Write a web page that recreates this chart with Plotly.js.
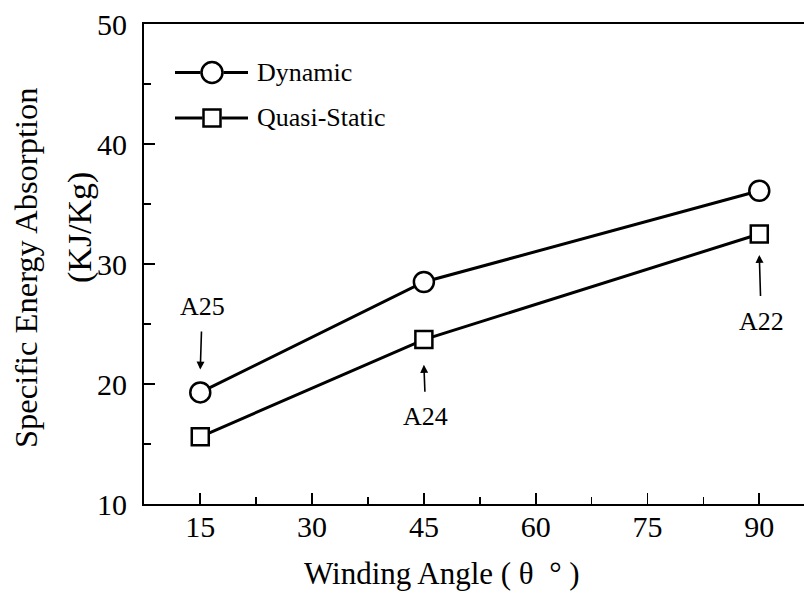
<!DOCTYPE html>
<html>
<head>
<meta charset="utf-8">
<script src="https://cdn.plot.ly/plotly-3.0.1.min.js"></script>
<style>
  html, body { margin: 0; padding: 0; background: #fff; overflow: hidden; }
  #chart { width: 804px; height: 593px; }
</style>
</head>
<body>
<div id="chart"></div>
<script>
// Winding angle (degrees) of each tube specimen
const windingAngle = [15, 45, 90];
// Specific energy absorption (KJ/Kg)
const dynamicSEA = [19.3, 28.5, 36.1];
const quasiStaticSEA = [15.6, 23.7, 32.5];
// Specimen labels placed next to the points
const specimenLabels = ['A25', 'A24', 'A22'];
const seriesNames = ['Dynamic', 'Quasi-Static'];

const FONT = 'Liberation Serif, Times New Roman, serif';
const W = 804, H = 593;
const M = { l: 144, r: 0, t: 24, b: 89 };
const plotW = W - M.l - M.r, plotH = H - M.t - M.b;
// pixel -> paper fraction helpers
const px = x => (x - M.l) / plotW;
const py = y => (H - M.b - y) / plotH;

const lineStyle = { color: '#000', width: 3 };

const traces = [
  {
    x: windingAngle, y: dynamicSEA, name: seriesNames[0],
    type: 'scatter', mode: 'lines+markers', cliponaxis: false,
    line: lineStyle,
    marker: { symbol: 'circle', size: 20, color: '#fff', line: { color: '#000', width: 2.5 } }
  },
  {
    x: windingAngle, y: quasiStaticSEA, name: seriesNames[1],
    type: 'scatter', mode: 'lines+markers', cliponaxis: false,
    line: lineStyle,
    marker: { symbol: 'square', size: 17, color: '#fff', line: { color: '#000', width: 2.5 } }
  }
];

// Specimen callouts: arrow head just beyond the marker, text further away
const calloutSeries = [dynamicSEA, quasiStaticSEA, quasiStaticSEA];
const calloutSide = [-1, 1, 1];   // -1: label above, arrow pointing down; 1: label below
const annotations = specimenLabels.map((lab, i) => {
  const headGap = i === 0 ? 1.9 : (i === 1 ? -2.1 : -1.75);
  return {
    x: windingAngle[i], y: calloutSeries[i][i] + headGap,
    xref: 'x', yref: 'y', text: lab, showarrow: true,
    ax: 2, ay: calloutSide[i] < 0 ? -63 : (i === 1 ? 52 : 66),
    arrowhead: 2, arrowsize: 1, arrowwidth: 1.6, arrowcolor: '#000',
    startstandoff: 9,
    font: { family: FONT, size: 26, color: '#000' }
  };
});

// Axis titles
annotations.push(
  { xref: 'paper', yref: 'paper', x: px(26), y: py(268), text: 'Specific Energy Absorption',
    textangle: -90, showarrow: false, xanchor: 'center', yanchor: 'middle',
    font: { family: FONT, size: 32.5, color: '#000' } },
  { xref: 'paper', yref: 'paper', x: px(80), y: py(228), text: '(KJ/Kg)',
    textangle: -90, showarrow: false, xanchor: 'center', yanchor: 'middle',
    font: { family: FONT, size: 34, color: '#000' } },
  { xref: 'paper', yref: 'paper', x: px(442), y: py(573), text: 'Winding Angle ( θ \u00a0° )',
    showarrow: false, xanchor: 'center', yanchor: 'middle',
    font: { family: FONT, size: 31, color: '#000' } }
);

// Legend entries drawn as line–symbol–line keys
const legendRows = [
  { y: 72.5, text: seriesNames[0], symbol: 'circle', r: 10.5 },
  { y: 118, text: seriesNames[1], symbol: 'rect', r: 8.5 }
];
const shapes = [];
legendRows.forEach(row => {
  const cx = 212;
  shapes.push(
    { type: 'line', xref: 'paper', yref: 'paper', x0: px(175), x1: px(cx - row.r - 1), y0: py(row.y), y1: py(row.y), line: { color: '#000', width: 3 } },
    { type: 'line', xref: 'paper', yref: 'paper', x0: px(cx + row.r + 1), x1: px(248), y0: py(row.y), y1: py(row.y), line: { color: '#000', width: 3 } },
    { type: row.symbol, xref: 'paper', yref: 'paper',
      x0: px(cx - row.r), x1: px(cx + row.r), y0: py(row.y - row.r), y1: py(row.y + row.r),
      line: { color: '#000', width: 2.5 }, fillcolor: '#fff' }
  );
  annotations.push({ xref: 'paper', yref: 'paper', x: px(255), y: py(row.y), text: row.text,
    showarrow: false, xanchor: 'left', yanchor: 'middle',
    font: { family: FONT, size: 26, color: '#000' } });
});

const layout = {
  width: W, height: H, margin: M,
  paper_bgcolor: '#fff', plot_bgcolor: '#fff',
  showlegend: false,
  font: { family: FONT, color: '#000' },
  xaxis: {
    range: [7.45, 96.0], tickmode: 'array', tickvals: [15, 30, 45, 60, 75, 90],
    ticks: 'inside', ticklen: 11, tickwidth: 1.8, tickcolor: '#000',
    minor: { tickmode: 'array', tickvals: [22.5, 37.5, 52.5, 67.5, 82.5], ticks: 'inside', ticklen: 7, tickwidth: 1.5, tickcolor: '#000', showgrid: false },
    showline: true, linecolor: '#000', linewidth: 2, mirror: true,
    showgrid: false, zeroline: false,
    tickfont: { family: FONT, size: 30, color: '#000' }, ticklabelstandoff: -5
  },
  yaxis: {
    range: [10, 50], tickmode: 'array', tickvals: [10, 20, 30, 40, 50],
    ticks: 'inside', ticklen: 11, tickwidth: 1.8, tickcolor: '#000',
    minor: { tickmode: 'array', tickvals: [15, 25, 35, 45], ticks: 'inside', ticklen: 7, tickwidth: 1.5, tickcolor: '#000', showgrid: false },
    showline: true, linecolor: '#000', linewidth: 2, mirror: false,
    showgrid: false, zeroline: false,
    tickfont: { family: FONT, size: 30, color: '#000' }, ticklabelstandoff: 9
  },
  shapes: shapes,
  annotations: annotations
};

Plotly.newPlot('chart', traces, layout, { staticPlot: true, displayModeBar: false });
</script>
</body>
</html>
